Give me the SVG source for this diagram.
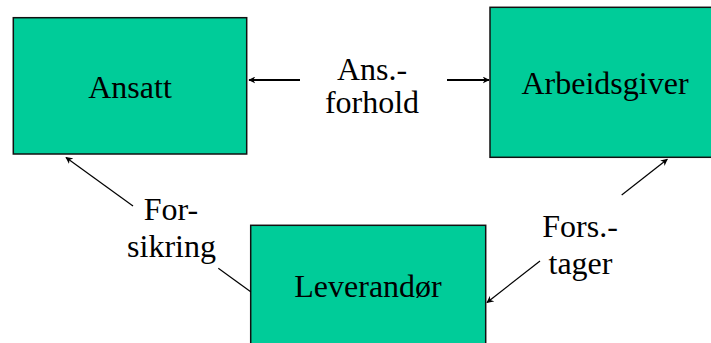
<svg xmlns="http://www.w3.org/2000/svg" width="711" height="343" viewBox="0 0 711 343">
<style>
.box{fill:#00CC99;stroke:#111;stroke-width:1.5}
.t{font-family:'Liberation Serif',serif;font-size:32px;fill:#000;text-anchor:middle}
.c{stroke:#000;fill:none}
.h{stroke-width:2}
.d{stroke-width:1.2}
</style>
<defs>
<marker id="ah" viewBox="0 0 10 10" refX="9" refY="5" markerWidth="7" markerHeight="7" markerUnits="userSpaceOnUse" orient="auto">
<path d="M0,0 L10,5 L0,10 L3,5 z" fill="#000"/>
</marker>
</defs>
<rect width="711" height="343" fill="#fff"/>
<g id="ansatt">
<rect class="box" x="13.3" y="17.7" width="233.4" height="136.3"/>
<text class="t" font-family="Liberation Serif" x="130" y="98">Ansatt</text>
</g>
<g id="arbeidsgiver">
<rect class="box" x="490" y="7.3" width="240" height="150"/>
<text class="t" font-family="Liberation Serif" x="605" y="93.5">Arbeidsgiver</text>
</g>
<g id="leverandor">
<rect class="box" x="250.7" y="225.3" width="235" height="130"/>
<text class="t" font-family="Liberation Serif" x="368" y="297">Leverandør</text>
</g>
<g id="connectors">
<line class="c h" x1="300" y1="80" x2="249" y2="80" marker-end="url(#ah)"/>
<line class="c h" x1="447" y1="80" x2="489" y2="80" marker-end="url(#ah)"/>
<line class="c d" x1="133" y1="206" x2="66" y2="157.5" marker-end="url(#ah)"/>
<line class="c d" x1="250.7" y1="291.7" x2="218.3" y2="268.3"/>
<line class="c d" x1="621.7" y1="195" x2="667.3" y2="159.3" marker-end="url(#ah)"/>
<line class="c d" x1="540" y1="261" x2="487" y2="302.5" marker-end="url(#ah)"/>
</g>
<g id="labels">
<text class="t" font-family="Liberation Serif" x="372" y="80">Ans.-</text>
<text class="t" font-family="Liberation Serif" x="372" y="113">forhold</text>
<text class="t" font-family="Liberation Serif" x="171" y="220">For-</text>
<text class="t" font-family="Liberation Serif" x="171.5" y="256.7">sikring</text>
<text class="t" font-family="Liberation Serif" x="580" y="237.3">Fors.-</text>
<text class="t" font-family="Liberation Serif" x="580.5" y="274">tager</text>
</g>
</svg>
